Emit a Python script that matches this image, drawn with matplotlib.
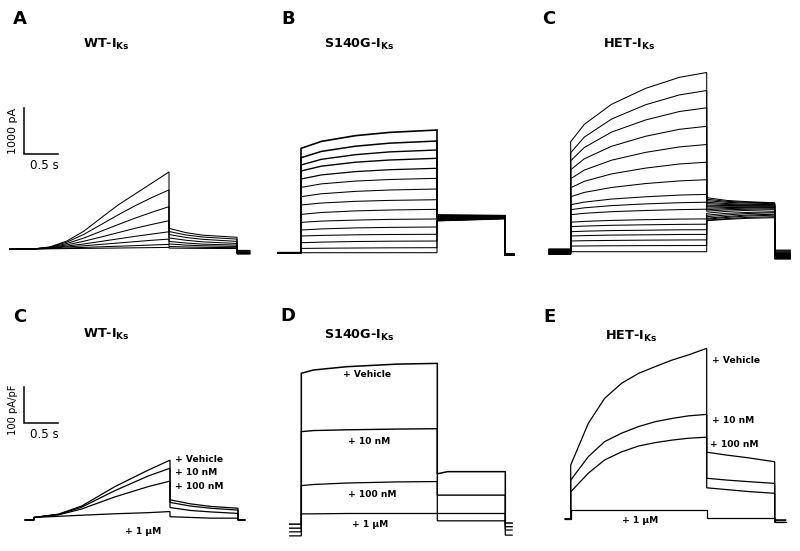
import matplotlib
matplotlib.use("Agg")
import matplotlib.pyplot as plt

plt.rcParams['font.family'] = ['DejaVu Sans']

# ---------------- DATA ----------------
# Panel A: WT-IKs family (pA)
tA_step = [0, 0.25, 0.5, 0.75, 1.0, 1.25, 1.5, 1.75, 2.0]
tA_tail = [2.0, 2.25, 2.5, 3.0]
A_step = [
    [0, 45, 175, 390, 675, 955, 1195, 1435, 1675],
    [0, 40, 150, 320, 530, 740, 940, 1120, 1285],
    [0, 35, 120, 240, 385, 530, 670, 800, 920],
    [0, 30, 90, 170, 260, 355, 450, 535, 615],
    [0, 25, 65, 110, 165, 220, 275, 325, 375],
    [0, 20, 45, 70, 100, 130, 160, 190, 215],
    [0, 10, 22, 35, 48, 60, 73, 87, 100],
    [0, 5, 9, 13, 17, 21, 26, 30, 35],
]
A_tail = [
    [450, 355, 300, 255],
    [380, 305, 260, 215],
    [315, 250, 210, 165],
    [240, 190, 155, 120],
    [165, 130, 105, 85],
    [110, 85, 70, 55],
    [55, 45, 37, 28],
    [20, 16, 13, 10],
]
A_pre = [0, 0, 0, 0, 0, 0, 0, 0]
A_post = [-110, -100, -90, -80, -70, -60, -45, -30]

# Panel B: S140G-IKs family (pA)
tB_step = [0, 0.3, 0.8, 1.3, 2.0]
tB_tail = [2.0, 3.0]
B_step = [
    [2268, 2420, 2544, 2615, 2667],
    [2065, 2202, 2315, 2381, 2428],
    [1907, 2030, 2131, 2191, 2233],
    [1776, 1881, 1967, 2015, 2052],
    [1602, 1691, 1763, 1804, 1835],
    [1420, 1496, 1557, 1591, 1617],
    [1217, 1281, 1333, 1363, 1385],
    [1037, 1080, 1117, 1137, 1152],
    [833, 874, 909, 928, 943],
    [659, 687, 709, 724, 733],
    [493, 517, 539, 550, 559],
    [363, 376, 389, 396, 400],
    [217, 230, 243, 250, 254],
    [93, 97, 102, 106, 109],
    [0, 0, 0, 0, 0],
]
B_tail = [
    [820, 805], [810, 800], [800, 795], [790, 790], [780, 785],
    [770, 780], [760, 775], [750, 770], [740, 765], [730, 760],
    [720, 755], [710, 750], [700, 745], [695, 740], [690, 735],
]
B_pre = [0] * 15
B_post = [-50, -48, -46, -44, -42, -40, -38, -36, -34, -32, -30, -28, -26, -24, -22]

# Panel C: HET-IKs family (pA)
tC_step = [0, 0.2, 0.6, 1.1, 1.6, 2.0]
tC_tail = [2.0, 2.3, 2.6, 3.0]
C_step = [
    [2391, 2768, 3204, 3550, 3791, 3896],
    [2152, 2491, 2883, 3194, 3409, 3504],
    [1978, 2265, 2600, 2863, 3048, 3128],
    [1783, 2020, 2291, 2509, 2661, 2726],
    [1587, 1774, 1989, 2159, 2278, 2330],
    [1391, 1530, 1691, 1817, 1907, 1946],
    [1196, 1289, 1396, 1481, 1539, 1565],
    [1022, 1078, 1144, 1194, 1231, 1246],
    [913, 954, 1002, 1039, 1065, 1076],
    [804, 835, 870, 896, 915, 924],
    [641, 659, 680, 696, 709, 713],
    [544, 557, 574, 585, 594, 598],
    [435, 446, 459, 467, 476, 478],
    [341, 350, 361, 367, 374, 376],
    [233, 239, 245, 251, 255, 257],
    [122, 125, 129, 132, 134, 135],
    [0, 0, 0, 0, 0, 0],
]
C_tail = [
    [1174, 1114, 1087, 1065], [1141, 1094, 1074, 1054], [1109, 1073, 1057, 1044],
    [1076, 1046, 1033, 1022], [1044, 1026, 1017, 1011], [1011, 1004, 1002, 1000],
    [978, 978, 978, 978], [946, 959, 965, 967], [913, 937, 948, 957],
    [880, 911, 924, 935], [837, 878, 898, 913], [794, 835, 854, 870],
    [761, 800, 830, 848], [728, 767, 798, 815], [707, 746, 776, 794],
    [685, 720, 746, 761], [674, 704, 726, 739],
]
C_pre = [60, 50, 40, 30, 20, 10, 0, -10, -20, -30, -40, -50, -60, 45, 15, -15, -45]
C_post = [-160, -150, -140, -130, -120, -110, -100, -90, -80, -70, -60, -50, -40, -20, 0, 20, 35]

# Bottom panels: drug effects (pA/pF)
drugs = ["+ Vehicle", "+ 10 nM", "+ 100 nM", "+ 1 \u03bcM"]

tW_step = [0, 0.36, 0.7, 1.19, 1.68, 2.0]
tW_tail = [2.0, 2.3, 2.6, 3.0]
W_step = [
    [7, 16, 38, 91, 136, 163],
    [7, 15, 35, 80, 120, 141],
    [7, 14, 30, 63, 91, 106],
    [7, 10, 13, 17, 20, 23],
]
W_tail = [
    [55, 44, 37, 32],
    [48, 38, 32, 27],
    [34, 26, 22, 18],
    [9, 7, 5, 5],
]
W_pre = [0, 0, 0, 0]
W_post = [0, 0, 0, 0]

tD_step = [0, 0.18, 0.67, 1.41, 2.0]
tD_tail = [2.0, 2.15, 3.0]
D_step = [
    [427, 436, 445, 452, 454],
    [268, 271, 273, 275, 276],
    [121, 124, 128, 131, 132],
    [44, 44, 45, 45, 45],
]
D_tail = [
    [153, 159, 159],
    [95, 95, 95],
    [45, 45, 45],
    [25, 25, 25],
]
D_pre = [16, 5, -5, -16]
D_post = [19, 9, 0, -14]

tE_step = [0, 0.26, 0.5, 0.75, 1.0, 1.24, 1.49, 1.73, 2.0]
tE_tail = [2.0, 2.3, 2.6, 3.0]
E_step = [
    [147, 261, 329, 370, 397, 415, 433, 447, 465],
    [106, 170, 211, 234, 252, 265, 274, 281, 285],
    [74, 125, 161, 183, 199, 208, 215, 220, 223],
    [25, 25, 25, 25, 25, 25, 25, 25, 25],
]
E_tail = [
    [182, 174, 167, 156],
    [111, 106, 102, 97],
    [85, 80, 75, 70],
    [4, 4, 4, 4],
]
E_pre = [0, 0, 0, 0]
E_post = [-3, -3, -9, -9]

# ---------------- LAYOUT ----------------
W, H = 800, 551
PX_PER_S = 68.0
K_TOP = 1000 / 46.0     # pA per pixel
K_BOT = 100 / 36.7      # pA/pF per pixel

fig = plt.figure(figsize=(8, 5.51), dpi=100)


def panel_axes(x_on, y0, k):
    ax = fig.add_axes([0, 0, 1, 1])
    ax.set_xlim(-x_on / PX_PER_S, (W - x_on) / PX_PER_S)
    ax.set_ylim((y0 - H) * k, y0 * k)
    ax.axis('off')
    ax.patch.set_alpha(0)
    return ax


def draw_family(ax, t_step, steps, t_tail, tails, pres, posts, t_pre, t_post, lw=0.75, lws=None):
    for i, (sv, tv, pv, qv) in enumerate(zip(steps, tails, pres, posts)):
        x = [t_pre, 0] + list(t_step) + list(t_tail) + [t_tail[-1], t_post]
        y = [pv, pv] + list(sv) + list(tv) + [qv, qv]
        w = lws[i] if lws is not None else lw
        ax.plot(x, y, color='black', lw=w, solid_joinstyle='miter')


def ftext(x, y, s, **kw):
    fig.text(x / W, 1 - y / H, s, **kw)


# Panel A
axA = panel_axes(33, 249, K_TOP)
draw_family(axA, tA_step, A_step, tA_tail, A_tail, A_pre, A_post, -0.34, 3.19)
sb_t = (24 - 33) / PX_PER_S
sb_v = (249 - 154) * K_TOP
axA.plot([sb_t, sb_t, sb_t + 0.5], [sb_v + 1000, sb_v, sb_v], color='black', lw=1.1,
         solid_joinstyle='miter')

# Panel B
axB = panel_axes(301, 252.7, K_TOP)
lwB = [1.2, 1.1, 1.0, 1.0, 0.9] + [0.75] * 10
draw_family(axB, tB_step, B_step, tB_tail, B_tail, B_pre, B_post, -0.34, 3.13, lws=lwB)

# Panel C (HET)
axC = panel_axes(570.7, 251.7, K_TOP)
draw_family(axC, tC_step, C_step, tC_tail, C_tail, C_pre, C_post, -0.32, 3.23)

# Bottom WT
axW = panel_axes(34, 520, K_BOT)
draw_family(axW, tW_step, W_step, tW_tail, W_tail, W_pre, W_post, -0.13, 3.1, lw=0.9)
sb_t2 = (24 - 34) / PX_PER_S
sb_v2 = (520 - 423.3) * K_BOT
axW.plot([sb_t2, sb_t2, sb_t2 + 0.5], [sb_v2 + 100, sb_v2, sb_v2], color='black', lw=1.1,
         solid_joinstyle='miter')

# Bottom D
axD = panel_axes(301.3, 530, K_BOT)
draw_family(axD, tD_step, D_step, tD_tail, D_tail, D_pre, D_post, -0.17, 3.1,
            lws=[1.1, 1.0, 0.9, 0.9])

# Bottom E
axE = panel_axes(570.7, 519, K_BOT)
draw_family(axE, tE_step, E_step, tE_tail, E_tail, E_pre, E_post, -0.08, 3.16, lw=0.9)

# ---------------- TEXT ----------------
letter_kw = dict(fontsize=13, fontweight='bold', ha='left', va='baseline')
ftext(13, 24, "A", **letter_kw)
ftext(281, 24, "B", **letter_kw)
ftext(542, 24, "C", **letter_kw)
ftext(13, 322, "C", **letter_kw)
ftext(280, 321, "D", **letter_kw)
ftext(543, 322, "E", **letter_kw)

title_kw = dict(fontsize=9.2, fontweight='bold', ha='left', va='baseline')
ftext(83, 48, r"WT-I$_{\mathregular{Ks}}$", **title_kw)
ftext(324, 48, r"S140G-I$_{\mathregular{Ks}}$", **title_kw)
ftext(603, 48, r"HET-I$_{\mathregular{Ks}}$", **title_kw)
ftext(83, 338, r"WT-I$_{\mathregular{Ks}}$", **title_kw)
ftext(324, 339, r"S140G-I$_{\mathregular{Ks}}$", **title_kw)
ftext(605, 340, r"HET-I$_{\mathregular{Ks}}$", **title_kw)

ftext(13, 131, "1000 pA", fontsize=8, rotation=90, ha='center', va='center')
ftext(30, 169, "0.5 s", fontsize=8.6, ha='left', va='baseline')
ftext(13, 410, "100 pA/pF", fontsize=7.2, rotation=90, ha='center', va='center')
ftext(30, 438, "0.5 s", fontsize=8.6, ha='left', va='baseline')

drug_kw = dict(fontsize=6.6, fontweight='bold', ha='left', va='baseline')
W_lab = [(175, 462), (175, 475), (175, 489), (125, 534)]
D_lab = [(343, 377), (348, 444), (348, 497), (352, 527)]
E_lab = [(712, 363), (712, 423), (710, 447), (622, 523)]
for labs in (W_lab, D_lab, E_lab):
    for name, (x, y) in zip(drugs, labs):
        ftext(x, y, name, **drug_kw)

fig.savefig("out.png", dpi=100)
